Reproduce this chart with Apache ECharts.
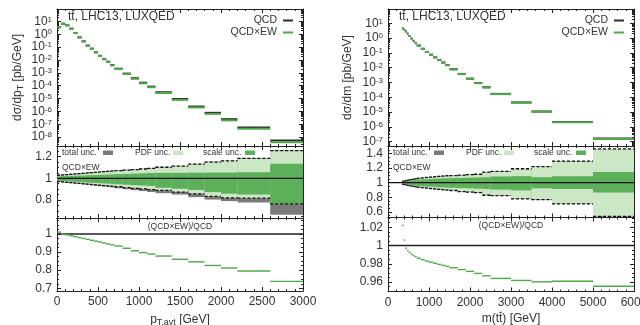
<!DOCTYPE html>
<html><head><meta charset="utf-8">
<script src="https://cdn.jsdelivr.net/npm/echarts@6/dist/echarts.min.js"></script>
<style>html,body{margin:0;padding:0;background:#fff}#c{width:640px;height:325px}</style>
</head><body><div id="c"></div>
<script>
// ---------------- data: left column (p_T,avt) ----------------
const ptEdges = [0,50,100,150,200,250,300,350,400,450,500,550,600,650,700,800,900,1000,1100,1200,1400,1600,1800,2000,2200,2600,3000];
const ptQCD   = [3.5,6.5,4.9,2.7,1.25,0.57,0.28,0.13,0.075,0.040,0.021,0.0118,0.0074,0.0040,0.0021,8.7e-4,3.8e-4,1.7e-4,8.5e-5,3.1e-5,9.2e-6,2.4e-6,7.8e-7,2.5e-7,5.6e-8,5.5e-9];
const ptQCDEW = [3.54,6.5,4.88,2.67,1.23,0.559,0.273,0.126,0.0724,0.0384,0.0201,0.0112,0.0070,0.00376,0.00196,8.0e-4,3.45e-4,1.52e-4,7.56e-5,2.72e-5,7.9e-6,2.03e-6,6.44e-7,2.03e-7,4.45e-8,4.06e-9];
const ptRatio = [1.010,1.000,0.995,0.990,0.985,0.980,0.975,0.970,0.965,0.960,0.955,0.950,0.945,0.940,0.933,0.921,0.907,0.897,0.889,0.878,0.860,0.846,0.826,0.812,0.795,0.738];
const ptTotUp = [1.032,1.035,1.038,1.041,1.044,1.047,1.050,1.053,1.056,1.059,1.062,1.065,1.068,1.071,1.075,1.080,1.085,1.090,1.095,1.106,1.116,1.134,1.154,1.164,1.187,1.259];
const ptTotLo = [0.966,0.963,0.959,0.956,0.952,0.948,0.944,0.940,0.936,0.932,0.928,0.924,0.920,0.916,0.908,0.899,0.890,0.882,0.874,0.863,0.850,0.826,0.804,0.790,0.777,0.665];
const ptPdfUp = [1.028,1.031,1.034,1.037,1.040,1.043,1.046,1.049,1.052,1.055,1.058,1.061,1.064,1.067,1.071,1.076,1.081,1.086,1.091,1.102,1.112,1.130,1.150,1.160,1.183,1.255];
const ptPdfLo = [0.970,0.967,0.963,0.960,0.957,0.953,0.950,0.947,0.943,0.940,0.937,0.933,0.930,0.927,0.922,0.915,0.908,0.902,0.896,0.888,0.873,0.857,0.833,0.820,0.817,0.765];
const ptScUp  = [1.018,1.019,1.021,1.022,1.024,1.025,1.026,1.028,1.029,1.030,1.032,1.033,1.034,1.036,1.038,1.040,1.043,1.046,1.049,1.050,1.050,1.052,1.053,1.053,1.055,1.135];
const ptScLo  = [0.976,0.974,0.972,0.970,0.968,0.966,0.963,0.961,0.959,0.957,0.955,0.953,0.951,0.949,0.945,0.941,0.937,0.933,0.929,0.913,0.904,0.892,0.873,0.858,0.851,0.765];

// ---------------- data: right column (m(tt)) ----------------
const mEdges = [340,380,420,460,500,550,600,650,700,800,900,1000,1100,1200,1300,1400,1500,1700,1900,2100,2300,2500,3000,3500,4000,5000,6000];
const mQCD   = [4.57,3.63,2.75,2.0,1.38,0.93,0.65,0.457,0.316,0.19,0.117,0.0759,0.050,0.0331,0.0224,0.0151,0.0079,0.0038,0.00182,9.3e-4,4.8e-4,1.7e-4,4.5e-5,1.1e-5,2.14e-6,1.62e-7];
const mQCDEW = [4.67,3.65,2.74,1.99,1.37,0.921,0.643,0.451,0.312,0.187,0.115,0.0745,0.0490,0.0324,0.0219,0.0148,0.0077,0.0037,0.00177,9.0e-4,4.6e-4,1.64e-4,4.33e-5,1.06e-5,2.06e-6,1.55e-7];
const mRatio = [1.022,1.006,0.997,0.9945,0.9925,0.9905,0.989,0.9878,0.9862,0.9845,0.983,0.9818,0.9806,0.9794,0.9783,0.9772,0.9757,0.9737,0.9717,0.9695,0.9668,0.964,0.9618,0.9603,0.961,0.9555];
const mTotUp = [1.020,1.024,1.029,1.034,1.039,1.044,1.049,1.054,1.060,1.066,1.072,1.077,1.082,1.087,1.092,1.096,1.098,1.104,1.111,1.116,1.146,1.156,1.191,1.221,1.296,1.463];
const mTotLo = [0.978,0.974,0.969,0.964,0.959,0.954,0.949,0.944,0.938,0.932,0.926,0.920,0.914,0.909,0.904,0.899,0.893,0.878,0.870,0.863,0.828,0.823,0.779,0.768,0.711,0.538];
const mPdfUp = [1.014,1.018,1.023,1.028,1.033,1.038,1.043,1.048,1.054,1.060,1.066,1.071,1.076,1.081,1.086,1.090,1.092,1.098,1.105,1.110,1.140,1.150,1.185,1.215,1.290,1.457];
const mPdfLo = [0.985,0.981,0.976,0.971,0.966,0.961,0.956,0.951,0.945,0.939,0.933,0.927,0.921,0.916,0.911,0.906,0.900,0.885,0.877,0.870,0.835,0.830,0.786,0.775,0.718,0.545];
const mScUp  = [1.012,1.016,1.020,1.024,1.028,1.032,1.035,1.038,1.042,1.045,1.048,1.051,1.054,1.056,1.058,1.060,1.063,1.066,1.069,1.072,1.075,1.085,1.090,1.075,1.088,1.145];
const mScLo  = [0.988,0.984,0.980,0.976,0.972,0.968,0.964,0.960,0.956,0.952,0.948,0.945,0.942,0.939,0.936,0.933,0.930,0.926,0.922,0.918,0.914,0.905,0.895,0.923,0.914,0.865];

// tick labels
const logTicksL = [-8,-7,-6,-5,-4,-3,-2,-1,0,1];
const logTicksR = [-7,-6,-5,-4,-3,-2,-1,0,1];
const midTicksL = [0.8,1,1.2];
const botTicksL = [0.7,0.8,0.9,1];
const midTicksR = [0.6,0.8,1,1.2,1.4];
const botTicksR = [0.96,0.98,1,1.02];

// ---------------- styling ----------------
const FONT = '"Liberation Sans", Arial, Helvetica, sans-serif';
const TXT = '#333';
const LINE = '#222';
const C_QCD = '#2e2e2e';
const C_EW = '#4fa84a';
const C_PDF = '#cbe7c6';
const C_SC = '#5cb059';
const C_TOT = '#7a7a7a';

const grids = [
  {left:57, top:9, width:246, height:137},
  {left:57, top:146, width:246, height:72},
  {left:57, top:218, width:246, height:73},
  {left:388, top:9, width:246, height:137},
  {left:388, top:146, width:246, height:71.5},
  {left:388, top:217.5, width:246, height:74}
].map(g => Object.assign(g, {containLabel: false, outerBoundsMode: 'none'}));

function minorLog(min, max) {
  const out = [];
  for (let n = Math.floor(min) - 1; n <= Math.ceil(max); n++)
    for (let k = 2; k <= 9; k++) { const v = n + Math.log10(k); if (v > min && v < max) out.push(v); }
  return out;
}
function minorLin(min, max, step) {
  const out = [];
  const s = Math.ceil(min / step - 1e-9), e = Math.floor(max / step + 1e-9);
  for (let i = s; i <= e; i++) out.push(+(i * step).toFixed(6));
  return out;
}

const subRich = {sub: {fontSize: 9, fontFamily: FONT, color: TXT, verticalAlign: 'bottom', padding: [6,0,0,0]}};
const xAxes = [], yAxes = [];
function addX(g, max, interval, showLabel, name, nameGap) {
  ['bottom','top'].forEach(pos => {
    xAxes.push({
      gridIndex: g, type: 'value', min: 0, max: max, interval: interval, position: pos,
      splitLine: {show: false}, minorSplitLine: {show: false},
      axisLine: {show: true, onZero: false, lineStyle: {color: LINE, width: 1}},
      axisTick: {show: true, inside: true, length: 4, lineStyle: {color: LINE}},
      minorTick: {show: true, splitNumber: 5, length: 2, lineStyle: {color: LINE}},
      axisLabel: {show: showLabel && pos === 'bottom', color: TXT, fontSize: 12, fontFamily: FONT, margin: 5,
        formatter: v => String(v)},
      name: (pos === 'bottom' && name) ? name : '',
      nameLocation: 'middle', nameGap: nameGap || 20,
      nameTextStyle: {color: TXT, fontSize: 12, fontFamily: FONT, rich: subRich}
    });
  });
}
function addY(g, min, max, majors, minors, fmt, rich, name, nameGap) {
  const mk = (pos, vals, len, line, label) => ({
    gridIndex: g, type: 'value', min: min, max: max, position: pos,
    splitLine: {show: false},
    axisLine: {show: line, onZero: false, lineStyle: {color: LINE, width: 1}},
    axisTick: {show: true, inside: true, length: len, customValues: vals, lineStyle: {color: LINE}},
    axisLabel: {show: label, customValues: majors, formatter: fmt, color: TXT, fontSize: 12, fontFamily: FONT, margin: 5, rich: rich},
    name: (label && name) ? name : '', nameLocation: 'middle', nameGap: nameGap || 30,
    nameTextStyle: {color: TXT, fontSize: 12, fontFamily: FONT, rich: subRich}
  });
  yAxes.push(mk('left', majors, 4, true, true));
  yAxes.push(mk('left', minors, 2, false, false));
  yAxes.push(mk('right', majors, 4, true, false));
  yAxes.push(mk('right', minors, 2, false, false));
}
const supRich = {sup: {fontSize: 8, fontFamily: FONT, color: TXT, verticalAlign: 'top', padding: [0,0,0,0]}};
const logFmt = v => '10{sup|' + Math.round(v) + '}';
const linFmt = v => String(+(+v).toFixed(3));

const LMIN = -8.685, LMAX = 1.957, RMIN = -7.29, RMAX = 1.966;
// left column
addX(0, 3000, 500, false); addX(1, 3000, 500, false); addX(2, 3000, 500, true, 'p{sub|T,avt} [GeV]', 21);
addY(0, LMIN, LMAX, logTicksL, minorLog(LMIN, LMAX), logFmt, supRich, 'dσ/dp{sub|T} [pb/GeV]', 32);
addY(1, 0.634, 1.298, midTicksL, minorLin(0.634, 1.298, 0.05), linFmt, null);
addY(2, 0.685, 1.088, botTicksL, minorLin(0.685, 1.088, 0.025), linFmt, null);
// right column
addX(3, 6000, 1000, false); addX(4, 6000, 1000, false); addX(5, 6000, 1000, true);
addY(3, RMIN, RMAX, logTicksR, minorLog(RMIN, RMAX), logFmt, supRich, 'dσ/dm [pb/GeV]', 34);
addY(4, 0.523, 1.503, midTicksR, minorLin(0.523, 1.503, 0.05), linFmt, null);
addY(5, 0.9497, 1.0307, botTicksR, minorLin(0.9497, 1.0307, 0.005), linFmt, null);

// ---------------- series builders ----------------
function bandSeries(g, edges, lo, hi, color, z) {
  return {
    type: 'custom', xAxisIndex: 2 * g, yAxisIndex: 4 * g, z: z, silent: true, animation: false,
    data: lo.map((v, i) => [edges[i], edges[i + 1], v, hi[i]]),
    renderItem: (p, api) => {
      const a = api.coord([api.value(0), api.value(3)]);
      const b = api.coord([api.value(1), api.value(2)]);
      return {type: 'rect', shape: {x: a[0], y: a[1], width: b[0] - a[0], height: b[1] - a[1]}, style: {fill: color}};
    }
  };
}
function stepSeries(g, edges, vals, color, width, dash, z, useLog) {
  return {
    type: 'custom', xAxisIndex: 2 * g, yAxisIndex: 4 * g, z: z, silent: true, animation: false,
    data: vals.map((v, i) => [edges[i], edges[i + 1], useLog ? Math.log10(v) : v]),
    renderItem: (p, api) => {
      const a = api.coord([api.value(0), api.value(2)]);
      const b = api.coord([api.value(1), api.value(2)]);
      return {type: 'line', shape: {x1: a[0], y1: a[1], x2: b[0], y2: b[1]},
        style: {stroke: color, lineWidth: width, lineDash: dash || null}};
    }
  };
}

const series = [
  stepSeries(0, ptEdges, ptQCD, C_QCD, 2, null, 2, true),
  stepSeries(0, ptEdges, ptQCDEW, C_EW, 2, null, 3, true),
  bandSeries(1, ptEdges, ptTotLo, ptTotUp, C_TOT, 1),
  bandSeries(1, ptEdges, ptPdfLo, ptPdfUp, C_PDF, 2),
  bandSeries(1, ptEdges, ptScLo, ptScUp, C_SC, 3),
  stepSeries(1, ptEdges, ptPdfUp, '#111', 1.3, [3, 2], 4),
  stepSeries(1, ptEdges, ptPdfLo, '#111', 1.3, [3, 2], 4),
  stepSeries(1, [0, 3000], [1], '#111', 1.2, null, 5),
  stepSeries(2, [0, 3000], [1], '#222', 1.5, null, 2),
  stepSeries(2, ptEdges, ptRatio, C_EW, 1.4, null, 3),
  stepSeries(3, mEdges, mQCD, C_QCD, 2, null, 2, true),
  stepSeries(3, mEdges, mQCDEW, C_EW, 2, null, 3, true),
  bandSeries(4, mEdges, mTotLo, mTotUp, C_TOT, 1),
  bandSeries(4, mEdges, mPdfLo, mPdfUp, C_PDF, 2),
  bandSeries(4, mEdges, mScLo, mScUp, C_SC, 3),
  stepSeries(4, mEdges, mTotUp, '#111', 1.3, [3, 2], 4),
  stepSeries(4, mEdges, mTotLo, '#111', 1.3, [3, 2], 4),
  stepSeries(4, [0, 6000], [1], '#111', 1.2, null, 5),
  stepSeries(5, [0, 6000], [1], '#222', 1.5, null, 2),
  stepSeries(5, mEdges, mRatio, C_EW, 1.4, null, 3)
];

// ---------------- annotations ----------------
const mctx = document.createElement('canvas').getContext('2d');
function tw(s, size) { mctx.font = size + 'px ' + FONT; return mctx.measureText(s).width; }
function txt(x, y, s, size, align) {
  return {type: 'text', x: x, y: y, z: 100, silent: true,
    style: {text: s, fill: TXT, font: size + 'px ' + FONT, align: align || 'left', verticalAlign: 'middle'}};
}
function seg(x1, x2, y, color, w) {
  return {type: 'line', z: 100, silent: true, shape: {x1: x1, y1: y, x2: x2, y2: y}, style: {stroke: color, lineWidth: w}};
}
function box(x, y, w, h, color) {
  return {type: 'rect', z: 100, silent: true, shape: {x: x, y: y, width: w, height: h}, style: {fill: color}};
}
const graphic = [];
[[57, 303], [388, 634]].forEach(([x0, x1]) => {
  const lx = x0 + 11;
  graphic.push(txt(lx, 16.5, 'tt, LHC13, LUXQED', 12));
  const t1 = tw('t', 12);
  graphic.push(seg(lx + t1 + 0.3, lx + 2 * t1 - 0.3, 10.8, TXT, 0.9));
  graphic.push(txt(x1 - 26, 20.5, 'QCD', 10.5, 'right'));
  graphic.push(seg(x1 - 20, x1 - 10, 20.5, C_QCD, 2));
  graphic.push(txt(x1 - 26, 32.5, 'QCD\u00d7EW', 10.5, 'right'));
  graphic.push(seg(x1 - 20, x1 - 10, 32.5, C_EW, 2));
  graphic.push(txt(x0 + 5, 152.5, 'total unc.', 8.5));
  graphic.push(box(x0 + 46, 150.5, 10, 4.5, C_TOT));
  graphic.push(txt(x0 + 78, 152.5, 'PDF unc.', 8.5));
  graphic.push(box(x0 + 116, 150.5, 10, 4.5, C_PDF));
  graphic.push(txt(x0 + 146, 152.5, 'scale unc.', 8.5));
  graphic.push(box(x0 + 188, 150.5, 10, 4.5, C_SC));
  graphic.push(txt(x0 + 5, 167.5, 'QCD\u00d7EW', 8.5));
  graphic.push(txt((x0 + x1) / 2, x0 < 300 ? 227 : 225.5, '(QCD\u00d7EW)/QCD', 8.5, 'center'));
});
// right x-axis title with a drawn bar over the second t
(function () {
  const s = 'm(tt) [GeV]', cx = 511, cy = 318.5, size = 12;
  const start = cx - tw(s, size) / 2;
  const a = start + tw('m(t', size), b = start + tw('m(tt', size);
  graphic.push(txt(cx, cy, s, size, 'center'));
  graphic.push(seg(a + 0.3, b - 0.3, cy - 6.2, TXT, 0.9));
})();

const chart = echarts.init(document.getElementById('c'), null, {renderer: 'canvas'});
chart.setOption({
  animation: false,
  backgroundColor: '#fff',
  grid: grids,
  xAxis: xAxes,
  yAxis: yAxes,
  series: series,
  graphic: graphic
});
</script>
</body></html>
